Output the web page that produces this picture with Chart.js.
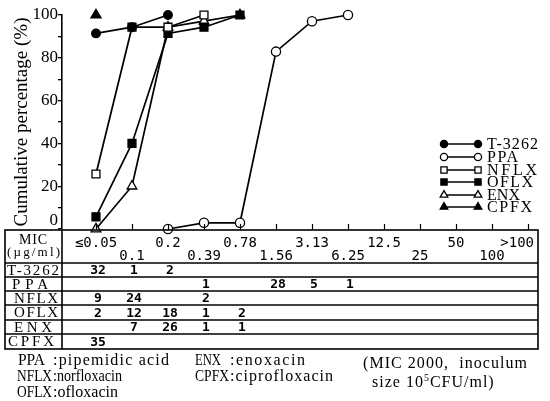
<!DOCTYPE html>
<html>
<head>
<meta charset="utf-8">
<script src="https://cdn.jsdelivr.net/npm/chart.js@4.4.1/dist/chart.umd.min.js"></script>
<style>
  html, body { margin: 0; padding: 0; background: #fff; }
  #wrap { position: relative; width: 550px; height: 401px; }
</style>
</head>
<body>
<div id="wrap"><canvas id="chartMic" width="550" height="401"></canvas></div>
<script>
// MIC steps (µg/ml)
const micLabels = ['≤0.05', '0.1', '0.2', '0.39', '0.78', '1.56', '3.13', '6.25', '12.5', '25', '50', '100', '>100'];
const drugNames = ['T-3262', 'PPA', 'NFLX', 'OFLX', 'ENX', 'CPFX'];

// cumulative percentage of strains inhibited at each step
const cumT3262 = [91.4, 94.3, 100, null, null, null, null, null, null, null, null, null, null];
const cumPPA   = [null, null, 0, 2.9, 2.9, 82.9, 97.1, 100, null, null, null, null, null];
const cumNFLX  = [25.7, 94.3, 94.3, 100, null, null, null, null, null, null, null, null, null];
const cumOFLX  = [5.7, 40, 91.4, 94.3, 100, null, null, null, null, null, null, null, null];
const cumENX   = [0, 20, 94.3, 97.1, 100, null, null, null, null, null, null, null, null];
const cumCPFX  = [100, null, null, null, null, null, null, null, null, null, null, null, null];

// number of strains at each step
const nT3262 = [32, 1, 2, null, null, null, null, null, null, null, null, null, null];
const nPPA   = [null, null, null, 1, null, 28, 5, 1, null, null, null, null, null];
const nNFLX  = [9, 24, null, 2, null, null, null, null, null, null, null, null, null];
const nOFLX  = [2, 12, 18, 1, 2, null, null, null, null, null, null, null, null];
const nENX   = [null, 7, 26, 1, 1, null, null, null, null, null, null, null, null];
const nCPFX  = [35, null, null, null, null, null, null, null, null, null, null, null, null];

const yTicks = [0, 20, 40, 60, 80, 100];

const drugNotes = [
    ['PPA', ':pipemidic acid'],
    ['NFLX', ':norfloxacin'],
    ['OFLX', ':ofloxacin'],
    ['ENX', ':enoxacin'],
    ['CPFX', ':ciprofloxacin'],
];

const cumulative = [cumT3262, cumPPA, cumNFLX, cumOFLX, cumENX, cumCPFX];
const counts = [nT3262, nPPA, nNFLX, nOFLX, nENX, nCPFX];

const markers = {
    'T-3262': { pointStyle: 'circle', radius: 4.3, fill: '#000' },
    PPA: { pointStyle: 'circle', radius: 4.6, fill: '#fff' },
    NFLX: { pointStyle: 'rect', radius: 5.6, fill: '#fff' },
    OFLX: { pointStyle: 'rect', radius: 5.6, fill: '#000' },
    ENX: { pointStyle: 'triangle', radius: 5.6, fill: '#fff' },
    CPFX: { pointStyle: 'triangle', radius: 5.8, fill: '#000' },
};

const SERIF = '"Liberation Serif", "Times New Roman", serif';
const MONO = '"DejaVu Sans Mono", monospace';

function toPoints(values) {
    const pts = [];
    values.forEach(function (v, i) {
        if (v !== null) pts.push({ x: i, y: v });
    });
    return pts;
}

// left-aligned text stretched or squeezed to a given width
function fitText(ctx, text, x, y, width) {
    ctx.save();
    ctx.textAlign = 'left';
    ctx.letterSpacing = '0px';
    const w = ctx.measureText(text).width;
    if (w > width) {
        ctx.translate(x, y);
        ctx.scale(width / w, 1);
        ctx.fillText(text, 0, 0);
    } else {
        const n = Array.from(text).length;
        ctx.letterSpacing = ((width - w) / Math.max(n - 1, 1)) + 'px';
        ctx.fillText(text, x, y);
    }
    ctx.restore();
}

function drawMark(ctx, name, x, y, radius) {
    const m = markers[name];
    ctx.save();
    ctx.fillStyle = m.fill;
    ctx.strokeStyle = '#000';
    ctx.lineWidth = 1.3;
    Chart.helpers.drawPoint(ctx, { pointStyle: m.pointStyle, rotation: 0, radius: radius, borderWidth: 1.3 }, x, y);
    ctx.restore();
}

// key at the right of the plot: line with a marker at each end
const keyPlugin = {
    id: 'drugKey',
    afterDraw(chart) {
        const ctx = chart.ctx;
        const rowY = [144, 157, 170, 182, 195, 207];
        const textW = [51, 31, 50, 46, 33, 45];
        ctx.save();
        drugNames.forEach(function (name, k) {
            const y = rowY[k];
            ctx.strokeStyle = '#000';
            ctx.lineWidth = 1.6;
            ctx.beginPath();
            ctx.moveTo(444, y);
            ctx.lineTo(478, y);
            ctx.stroke();
            const r = markers[name].pointStyle === 'circle' ? 3.6 : 4.4;
            drawMark(ctx, name, 444, y, r);
            drawMark(ctx, name, 478, y, r);
            ctx.fillStyle = '#000';
            ctx.font = '16px ' + SERIF;
            ctx.textBaseline = 'middle';
            fitText(ctx, name, 487, y + 1, textW[k]);
        });
        ctx.restore();
    },
};

// MIC distribution table and notes under the plot
const tablePlugin = {
    id: 'micTable',
    afterDraw(chart) {
        const ctx = chart.ctx;
        const xs = chart.scales.x;
        const left = 5, right = 538, top = 230, bottom = 349, split = 62;
        const lines = [263, 277, 291, 305, 320, 334];

        ctx.save();
        ctx.strokeStyle = '#000';
        ctx.fillStyle = '#000';

        // tick marks standing on the table
        ctx.lineWidth = 1.2;
        micLabels.forEach(function (_, i) {
            const x = Math.round(xs.getPixelForValue(i)) + 0.5;
            ctx.beginPath();
            ctx.moveTo(x, top - 6);
            ctx.lineTo(x, top);
            ctx.stroke();
        });

        ctx.lineWidth = 1.6;
        ctx.strokeRect(left, top, right - left, bottom - top);
        lines.forEach(function (y) {
            ctx.beginPath();
            ctx.moveTo(left, y);
            ctx.lineTo(right, y);
            ctx.stroke();
        });
        ctx.beginPath();
        ctx.moveTo(split, top);
        ctx.lineTo(split, bottom);
        ctx.stroke();

        // zero label sits above the table edge
        ctx.font = '17px ' + SERIF;
        ctx.textAlign = 'right';
        ctx.textBaseline = 'middle';
        ctx.fillText('0', 58, 221);

        // header cell
        ctx.font = '14px ' + SERIF;
        fitText(ctx, 'MIC', 19, 240, 28);
        ctx.font = '13px ' + SERIF;
        fitText(ctx, '(µg/ml)', 7, 253, 53);

        ctx.textAlign = 'center';
        ctx.font = '14px ' + MONO;
        micLabels.forEach(function (label, i) {
            const x = xs.getPixelForValue(i);
            const y = i % 2 === 0 ? 243 : 256;
            if (i === micLabels.length - 1) {
                ctx.textAlign = 'right';
                ctx.fillText(label, right - 4, y);
                ctx.textAlign = 'center';
            } else {
                ctx.fillText(label, x, y);
            }
        });

        // drug rows
        const rowTop = [263, 277, 291, 305, 320, 334];
        const rowBottom = [277, 291, 305, 320, 334, 349];
        const labelX = [7, 12, 14, 14, 14, 8];
        const labelW = [52, 36, 44, 44, 38, 46];
        drugNames.forEach(function (name, k) {
            const cy = (rowTop[k] + rowBottom[k]) / 2 + 1;
            ctx.font = '15px ' + SERIF;
            fitText(ctx, name, labelX[k], cy, labelW[k]);
            ctx.textAlign = 'center';
            ctx.font = 'bold 13px ' + MONO;
            counts[k].forEach(function (n, i) {
                if (n !== null) ctx.fillText(String(n), xs.getPixelForValue(i) + 2, cy);
            });
        });

        // abbreviations
        const notePos = [[18, 361], [17, 377], [17, 393], [195, 361], [195, 377]];
        const abbrW = [27, 35, 35, 26, 34];
        const descX = [53, 53, 53, 230, 230];
        const descW = [116, 69, 65, 75, 103];
        drugNotes.forEach(function (note, k) {
            const p = notePos[k];
            ctx.font = '16px ' + SERIF;
            fitText(ctx, note[0], p[0], p[1], abbrW[k]);
            fitText(ctx, note[1], descX[k], p[1], descW[k]);
        });

        // test conditions
        ctx.font = '16px ' + SERIF;
        fitText(ctx, '(MIC 2000,  inoculum', 363, 364, 164);
        ctx.textAlign = 'left';
        ctx.letterSpacing = '1px';
        let x = 372;
        ctx.fillText('size 10', x, 383);
        x += ctx.measureText('size 10').width;
        ctx.font = '10px ' + SERIF;
        ctx.letterSpacing = '0px';
        ctx.fillText('5', x, 378);
        x += ctx.measureText('5').width + 1;
        ctx.font = '16px ' + SERIF;
        ctx.letterSpacing = '1px';
        ctx.fillText('CFU/ml)', x, 383);
        ctx.restore();
    },
};

new Chart(document.getElementById('chartMic'), {
    type: 'line',
    data: {
        datasets: drugNames.map(function (name, k) {
            const m = markers[name];
            return {
                label: name,
                data: toPoints(cumulative[k]),
                borderColor: '#000',
                borderWidth: 1.7,
                pointStyle: m.pointStyle,
                pointRadius: m.radius,
                pointBackgroundColor: m.fill,
                pointBorderColor: '#000',
                pointBorderWidth: 1.3,
                tension: 0,
                clip: false,
            };
        }),
    },
    options: {
        responsive: false,
        animation: false,
        events: [],
        layout: { padding: { left: 0, top: 15, right: 12, bottom: 172 } },
        plugins: {
            legend: { display: false },
            tooltip: { enabled: false },
        },
        scales: {
            x: { type: 'linear', display: false, min: -0.944, max: 12.278 },
            y: {
                min: 0,
                max: 100,
                afterFit(scale) { scale.width = 62; },
                afterBuildTicks(scale) {
                    const t = [];
                    for (let v = 0; v <= 100; v += 10) t.push({ value: v });
                    scale.ticks = t;
                },
                ticks: {
                    autoSkip: false,
                    color: '#000',
                    padding: 0,
                    font: { family: SERIF, size: 17 },
                    callback: function (v) { return (yTicks.includes(v) && v > 0) ? String(v) : ''; },
                },
                grid: { drawOnChartArea: false, tickLength: 4, color: '#000', lineWidth: 1.3 },
                border: { color: '#000', width: 1.6 },
                title: {
                    display: true,
                    text: 'Cumulative percentage (%)',
                    color: '#000',
                    font: { family: SERIF, size: 19 },
                    padding: { top: 11, bottom: 0 },
                },
            },
        },
    },
    plugins: [keyPlugin, tablePlugin],
});
</script>
</body>
</html>
